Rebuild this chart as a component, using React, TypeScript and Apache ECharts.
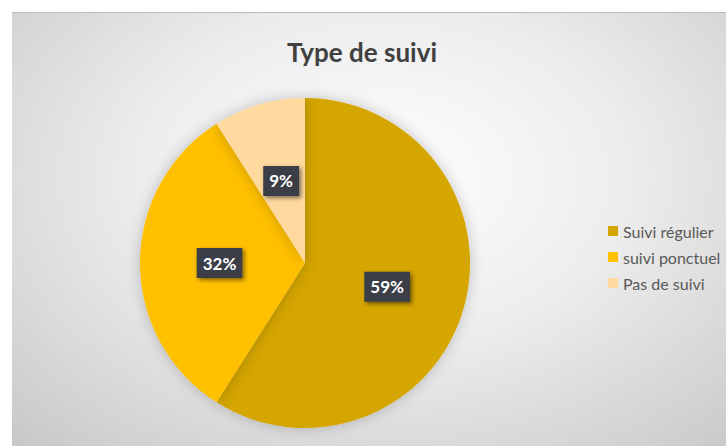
import React, { useEffect, useRef } from "react";
import * as echarts from "echarts";

const categories = ["Suivi régulier", "suivi ponctuel", "Pas de suivi"];
const values = [59, 32, 9];
const colors = ["#D5A500", "#FFC000", "#FFD99E"];
const titleText = "Type de suivi";

export default function App() {
  const ref = useRef<HTMLDivElement>(null);
  useEffect(() => {
    if (!ref.current) return;
    const chart = echarts.init(ref.current, null, { renderer: "svg" });
    chart.setOption({
      animation: false,
      title: {
        text: titleText,
        left: 345,
        textAlign: "center",
        top: 21,
        textStyle: {
          fontFamily: "Lato",
          fontWeight: "bold",
          fontSize: 26,
          color: "#404040",
        },
      },
      legend: {
        orient: "vertical",
        left: 591,
        top: 205,
        icon: "rect",
        itemWidth: 10,
        itemHeight: 10,
        itemGap: 10,
        data: categories,
        textStyle: {
          fontFamily: "Lato",
          fontSize: 16,
          lineHeight: 16,
          color: "#595959",
        },
      },
      series: [
        {
          type: "pie",
          center: [293, 250],
          radius: 165,
          startAngle: 90,
          clockwise: true,
          data: categories.map((name, i) => ({
            name,
            value: values[i],
            itemStyle: { color: colors[i] },
          })),
          itemStyle: {
            shadowBlur: 14,
            shadowColor: "rgba(0,0,0,0.22)",
          },
          label: {
            position: "inside",
            formatter: "{c}%",
            color: "#FFFFFF",
            fontFamily: "Lato",
            fontWeight: "bold",
            fontSize: 17,
            backgroundColor: "#3B3E47",
            padding: [7, 6, 6, 6],
            shadowBlur: 4,
            shadowColor: "rgba(0,0,0,0.5)",
            shadowOffsetX: 2,
            shadowOffsetY: 2,
          },
          labelLine: { show: false },
          emphasis: { disabled: true },
        },
      ],
    });
    return () => chart.dispose();
  }, []);
  return (
    <div
      style={{
        position: "fixed",
        left: 0,
        top: 0,
        width: 726,
        height: 446,
        background: "#FFFFFF",
      }}
    >
      <div
        ref={ref}
        style={{
          position: "absolute",
          left: 12,
          top: 12,
          width: 714,
          height: 434,
          borderTop: "1px solid #BBBBBB",
          boxSizing: "border-box",
          background:
            "radial-gradient(ellipse 75% 85% at 52% 38%, #FFFFFF 0%, #EDEDED 45%, #C8C8C8 100%)",
        }}
      />
    </div>
  );
}
